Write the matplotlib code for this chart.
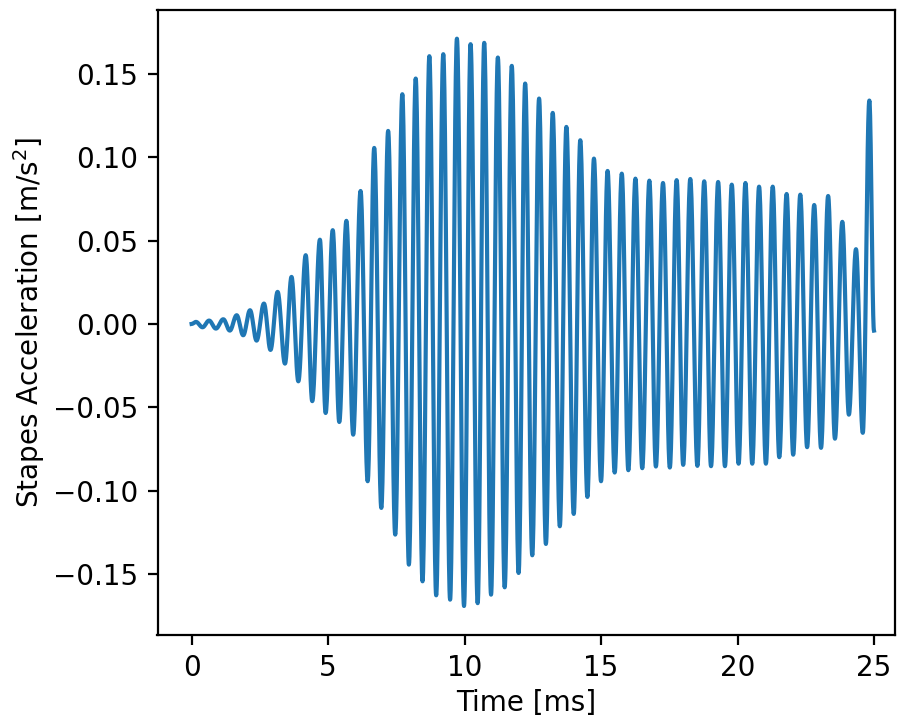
import numpy as np
import matplotlib
matplotlib.use("Agg")
import matplotlib.pyplot as plt

# Extrema (time in ms, acceleration in m/s^2)
start_point = (0.0, 0.0)
end_point = (25.0, -0.004)

peak_times = [0.16, 0.64, 1.16, 1.65, 2.14, 2.65, 3.15, 3.66, 4.18, 4.70,
              5.17, 5.67, 6.19, 6.69, 7.20, 7.72, 8.21, 8.71, 9.22, 9.72,
              10.22, 10.72, 11.22, 11.73, 12.22, 12.73, 13.23, 13.73, 14.24, 14.74,
              15.24, 15.76, 16.26, 16.77, 17.27, 17.77, 18.27, 18.78, 19.29, 19.79,
              20.29, 20.79, 21.29, 21.80, 22.30, 22.81, 23.32, 23.84, 24.34, 24.83]
peak_values = [0.0012, 0.0020, 0.0028, 0.0052, 0.0082, 0.0122, 0.0192, 0.0282, 0.0412, 0.0505,
               0.0562, 0.0618, 0.0797, 0.1055, 0.1157, 0.1377, 0.1471, 0.1605, 0.1617, 0.1710,
               0.1677, 0.1685, 0.1597, 0.1547, 0.1441, 0.1351, 0.1265, 0.1181, 0.1101, 0.0991,
               0.0917, 0.0901, 0.0871, 0.0859, 0.0845, 0.0862, 0.0869, 0.0855, 0.0851, 0.0835,
               0.0845, 0.0823, 0.0823, 0.0779, 0.0775, 0.0713, 0.0767, 0.0612, 0.0448, 0.1339]

trough_times = [0.40, 0.89, 1.40, 1.89, 2.38, 2.89, 3.42, 3.91, 4.42, 4.91,
                5.41, 5.92, 6.45, 6.95, 7.46, 7.96, 8.46, 8.96, 9.47, 9.98,
                10.48, 10.97, 11.47, 11.98, 12.48, 12.98, 13.49, 14.00, 14.50, 15.00,
                15.50, 16.00, 16.51, 17.01, 17.52, 18.01, 18.53, 19.03, 19.54, 20.04,
                20.54, 21.04, 21.53, 22.04, 22.55, 23.06, 23.57, 24.08, 24.59]
trough_values = [-0.0020, -0.0028, -0.0040, -0.0068, -0.0100, -0.0156, -0.0238, -0.0344, -0.0463, -0.0534,
                 -0.0588, -0.0664, -0.0943, -0.1103, -0.1263, -0.1443, -0.1543, -0.1627, -0.1653, -0.1691,
                 -0.1674, -0.1623, -0.1579, -0.1493, -0.1387, -0.1319, -0.1213, -0.1139, -0.1037, -0.0943,
                 -0.0891, -0.0877, -0.0865, -0.0855, -0.0861, -0.0845, -0.0851, -0.0853, -0.0853, -0.0838,
                 -0.0838, -0.0838, -0.0799, -0.0784, -0.0739, -0.0743, -0.0688, -0.0544, -0.0653]

xticks = [0, 5, 10, 15, 20, 25]
yticks = [-0.15, -0.10, -0.05, 0.00, 0.05, 0.10, 0.15]

# Interleave extrema into one node sequence
node_t = [start_point[0]]
node_v = [start_point[1]]
for i in range(len(peak_times)):
    node_t.append(peak_times[i]); node_v.append(peak_values[i])
    if i < len(trough_times):
        node_t.append(trough_times[i]); node_v.append(trough_values[i])
node_t.append(end_point[0]); node_v.append(end_point[1])

# Render smooth oscillation: half-cosine shape between consecutive extrema
ts, vs = [], []
s = np.linspace(0, 1, 25)[:-1]
for a in range(len(node_t) - 1):
    t0, t1 = node_t[a], node_t[a + 1]
    v0, v1 = node_v[a], node_v[a + 1]
    ts.append(t0 + (t1 - t0) * s)
    vs.append(v0 + (v1 - v0) * (1 - np.cos(np.pi * s)) / 2)
ts.append([node_t[-1]]); vs.append([node_v[-1]])
t = np.concatenate(ts)
v = np.concatenate(vs)

plt.rcParams['font.family'] = ['DejaVu Sans']
plt.rcParams['font.size'] = 10

W, H = 898, 719
fig = plt.figure(figsize=(W / 200, H / 200), dpi=200)
left, right, bottom, top = 157.5, 895, 635, 10
ax = fig.add_axes([left / W, 1 - bottom / H, (right - left) / W, (bottom - top) / H])
ax.plot(t, v, color='#1f77b4', lw=1.5)
ax.set_xlim(-1.25, 25.77)
ax.set_ylim(-0.1865, 0.1882)
ax.set_xticks(xticks)
ax.set_yticks(yticks)
ax.set_xlabel('Time [ms]', labelpad=2.2)
ax.set_ylabel('Stapes Acceleration [m/s$^2$]', labelpad=2.0)
fig.savefig('out.png', dpi=200)
